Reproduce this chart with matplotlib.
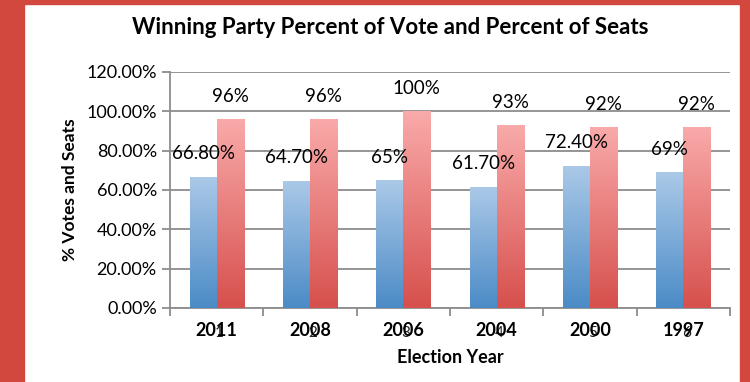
import numpy as np
import matplotlib
matplotlib.use("Agg")
import matplotlib.pyplot as plt
from matplotlib.colors import LinearSegmentedColormap
from matplotlib.patches import Rectangle

years = ["2011", "2008", "2006", "2004", "2000", "1997"]
order = ["1", "2", "3", "4", "5", "6"]
vote_pct = [66.8, 64.7, 65.0, 61.7, 72.4, 69.0]
seat_pct = [96, 96, 100, 93, 92, 92]
vote_labels = ["66.80%", "64.70%", "65%", "61.70%", "72.40%", "69%"]
seat_labels = ["96%", "96%", "100%", "93%", "92%", "92%"]

plt.rcParams['font.family'] = ['Lato', 'DejaVu Sans']

fig = plt.figure(figsize=(7.5, 3.82), dpi=100)
ax = fig.add_axes([170 / 750, 1 - 308 / 382, 560 / 750, 236 / 382])

# red frame round the chart
border = "#d2483e"
fig.patches.append(Rectangle((0, 0), 24 / 750, 1, transform=fig.transFigure, color=border, zorder=0))
fig.patches.append(Rectangle((0, 1 - 4 / 382), 1, 4 / 382, transform=fig.transFigure, color=border, zorder=0))
fig.patches.append(Rectangle((740 / 750, 0), 10 / 750, 1, transform=fig.transFigure, color=border, zorder=0))

x = np.arange(len(years))
w = 0.29
blue_bars = ax.bar(x - w / 2, np.array(vote_pct) / 100, w, color="none", zorder=3)
red_bars = ax.bar(x + w / 2, np.array(seat_pct) / 100, w, color="none", zorder=3)

blue_cmap = LinearSegmentedColormap.from_list("b", ["#4b8bc6", "#abc9e8"])
red_cmap = LinearSegmentedColormap.from_list("r", ["#d6504c", "#f9aaaa"])
grad = np.linspace(0, 1, 256).reshape(-1, 1)


def fill_gradient(bars, cmap):
    for bar in bars:
        x0 = bar.get_x()
        h = bar.get_height()
        im = ax.imshow(grad, cmap=cmap, origin="lower", aspect="auto",
                       extent=[x0, x0 + bar.get_width(), 0, h], zorder=3)
        im.set_clip_path(bar)


fill_gradient(blue_bars, blue_cmap)
fill_gradient(red_bars, red_cmap)

for bars, labels in [(blue_bars, vote_labels), (red_bars, seat_labels)]:
    for bar, lab in zip(bars, labels):
        ax.annotate(lab, (bar.get_x() + bar.get_width() / 2, bar.get_height()),
                    xytext=(0, 23), textcoords="offset pixels", ha="center", va="center",
                    fontsize=13.5, zorder=5)

ax.set_xlim(-0.5, len(years) - 0.5)
ax.set_ylim(0, 1.2)
ax.set_yticks(np.arange(0, 1.21, 0.2))
ax.set_yticklabels([f"{v:.2%}" for v in np.arange(0, 1.21, 0.2)], fontsize=13)
ax.yaxis.grid(True, color="#8c8c8c", linewidth=1.3, zorder=0)
ax.set_axisbelow(True)

ax.set_xticks(np.arange(len(years) + 1) - 0.5)
ax.set_xticklabels([])
for xi, yr, num in zip(x, years, order):
    ax.text(xi + 0.03, -0.128, num, ha="center", va="center", fontsize=11, color="#222222")
    ax.text(xi, -0.112, yr, ha="center", va="center", fontsize=13, fontweight="bold")

for side in ["top", "right"]:
    ax.spines[side].set_visible(False)
for side in ["left", "bottom"]:
    ax.spines[side].set_color("#8c8c8c")
    ax.spines[side].set_linewidth(1.3)
ax.tick_params(axis="both", color="#8c8c8c", width=1.3, length=6)

ax.set_ylabel("% Votes and Seats", fontsize=12.5, fontweight="bold", labelpad=6)
ax.set_xlabel("Election Year", fontsize=13, fontweight="bold", labelpad=20)
fig.text(390 / 750, 1 - 28 / 382, "Winning Party Percent of Vote and Percent of Seats",
         ha="center", va="center", fontsize=16, fontweight="bold")

fig.savefig("out.png", dpi=100)
